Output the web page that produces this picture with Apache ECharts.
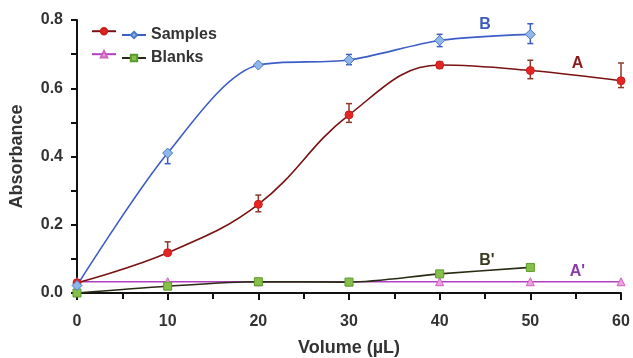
<!DOCTYPE html>
<html><head><meta charset="utf-8">
<script src="https://cdn.jsdelivr.net/npm/echarts@6/dist/echarts.min.js"></script>
<style>html,body{margin:0;padding:0;background:#fff}#c{width:633px;height:358px}</style>
</head><body><div id="c"></div>
<script>
var volumes = [0, 10, 20, 30, 40, 50, 60];
var volumesB = [0, 10, 20, 30, 40, 50];
var sampleA = [0.03, 0.118, 0.26, 0.522, 0.668, 0.652, 0.622];
var sampleAErrUp = [0, 0.032, 0.027, 0.033, 0.01, 0.03, 0.052];
var sampleAErrDown = [0, 0, 0.022, 0.022, 0.01, 0.024, 0.02];
var sampleB = [0.022, 0.41, 0.668, 0.683, 0.74, 0.758];
var sampleBErrUp = [0, 0, 0, 0.016, 0.018, 0.031];
var sampleBErrDown = [0, 0.031, 0, 0.014, 0.018, 0.027];
var blankA = [0.033, 0.033, 0.033, 0.033, 0.033, 0.033, 0.033];
var blankB = [0.0, 0.02, 0.033, 0.032, 0.056, 0.075];
var yTicks = ['0.0', '0.2', '0.4', '0.6', '0.8'];

function pairs(xs, ys) { return xs.map(function (x, i) { return [x, ys[i]]; }); }
function errData(xs, ys, up, dn) {
  var out = [];
  xs.forEach(function (x, i) { if (up[i] > 0 || dn[i] > 0) out.push([x, ys[i] - dn[i], ys[i] + up[i]]); });
  return out;
}
function errSeries(data, color) {
  return {
    type: 'custom', silent: true, z: 3, data: data,
    renderItem: function (params, api) {
      var lo = api.coord([api.value(0), api.value(1)]);
      var hi = api.coord([api.value(0), api.value(2)]);
      var w = 3;
      return { type: 'group', children: [
        { type: 'line', shape: { x1: lo[0], y1: lo[1], x2: hi[0], y2: hi[1] }, style: { stroke: color, lineWidth: 1.5 } },
        { type: 'line', shape: { x1: lo[0] - w, y1: lo[1], x2: lo[0] + w, y2: lo[1] }, style: { stroke: color, lineWidth: 1.5 } },
        { type: 'line', shape: { x1: hi[0] - w, y1: hi[1], x2: hi[0] + w, y2: hi[1] }, style: { stroke: color, lineWidth: 1.5 } }
      ] };
    }
  };
}
var FONT = 'Liberation Sans, Arial, sans-serif';
function tag(text, x, y, color) {
  return { symbol: 'circle', symbolSize: 0.01, data: [{ coord: [x, y], label: { show: true, formatter: text, color: color, fontSize: 16, fontWeight: 'bold', fontFamily: FONT, position: 'inside' } }] };
}
var legendText = { fontSize: 16, fontWeight: 'bold', color: '#333', fontFamily: FONT };
function leg(name, left, top, text) {
  return { data: [name], left: left, top: top, padding: 0, itemWidth: 24, itemHeight: 8,
    formatter: function () { return text; }, textStyle: legendText, selectedMode: false };
}
var chart = echarts.init(document.getElementById('c'), null, { renderer: 'canvas' });
chart.setOption({
  animation: false,
  backgroundColor: '#fff',
  grid: { left: 77, right: 12, top: 20, bottom: 65, containLabel: false, outerBoundsMode: 'none' },
  legend: [
    leg('A', 91, 27, ''),
    leg('B', 121, 27, 'Samples'),
    leg("A'", 91, 50, ''),
    leg("B'", 121, 50, 'Blanks')
  ],
  xAxis: {
    type: 'value', min: 0, max: 60, interval: 10,
    name: 'Volume (\u00b5L)', nameLocation: 'middle', nameGap: 46,
    nameTextStyle: { fontSize: 18, fontWeight: 'bold', color: '#333', fontFamily: FONT },
    axisLine: { lineStyle: { color: '#111', width: 2 } },
    axisTick: { length: 7, lineStyle: { color: '#111', width: 2 } },
    minorTick: { show: true, splitNumber: 2, length: 6, lineStyle: { color: '#111', width: 2 } },
    axisLabel: { fontSize: 16, fontWeight: 'bold', color: '#333', margin: 21, fontFamily: FONT },
    splitLine: { show: false }
  },
  yAxis: {
    type: 'value', min: 0, max: 0.8, interval: 0.2,
    name: 'Absorbance', nameLocation: 'middle', nameGap: 51,
    nameTextStyle: { fontSize: 18, fontWeight: 'bold', color: '#333', fontFamily: FONT },
    axisLine: { show: true, lineStyle: { color: '#111', width: 2 } },
    axisTick: { show: true, length: 6, lineStyle: { color: '#111', width: 2 } },
    minorTick: { show: true, splitNumber: 2, length: 6, lineStyle: { color: '#111', width: 2 } },
    axisLabel: { fontSize: 16, fontWeight: 'bold', color: '#333', margin: 14, fontFamily: FONT,
      formatter: function (v) { return yTicks[Math.round(v / 0.2)]; } },
    splitLine: { show: false }
  },
  series: [
    { name: 'A', type: 'line', data: pairs(volumes, sampleA), smooth: 0.4, z: 4,
      symbol: 'circle', symbolSize: 8,
      lineStyle: { color: '#7a1212', width: 1.6 },
      itemStyle: { color: '#e52521', borderColor: '#c81e1e', borderWidth: 1 },
      markPoint: tag('A', 55.2, 0.672, '#8b1a1a') },
    { name: 'B', type: 'line', data: pairs(volumesB, sampleB), smooth: 0.3, z: 4,
      symbol: 'diamond', symbolSize: 10,
      lineStyle: { color: '#3c5cc6', width: 1.6 },
      itemStyle: { color: '#8fb8ea', borderColor: '#4a78c8', borderWidth: 1 },
      markPoint: tag('B', 45, 0.786, '#3c5cb8') },
    { name: "A'", type: 'line', data: pairs(volumes, blankA), z: 3,
      symbol: 'triangle', symbolSize: 8,
      lineStyle: { color: '#b23ec2', width: 1.6 },
      itemStyle: { color: '#f0a0dc', borderColor: '#d060c0', borderWidth: 1 },
      markPoint: tag("A'", 55.2, 0.064, '#8a3aa8') },
    { name: "B'", type: 'line', data: pairs(volumesB, blankB), smooth: 0.3, z: 3,
      symbol: 'rect', symbolSize: 8,
      lineStyle: { color: '#2a2a14', width: 1.6 },
      itemStyle: { color: '#86c04a', borderColor: '#5a9a2a', borderWidth: 1 },
      markPoint: tag("B'", 45.2, 0.096, '#3a3a20') },
    errSeries(errData(volumes, sampleA, sampleAErrUp, sampleAErrDown), '#8a3a2a'),
    errSeries(errData(volumesB, sampleB, sampleBErrUp, sampleBErrDown), '#3c5cc6')
  ]
});
</script></body></html>
